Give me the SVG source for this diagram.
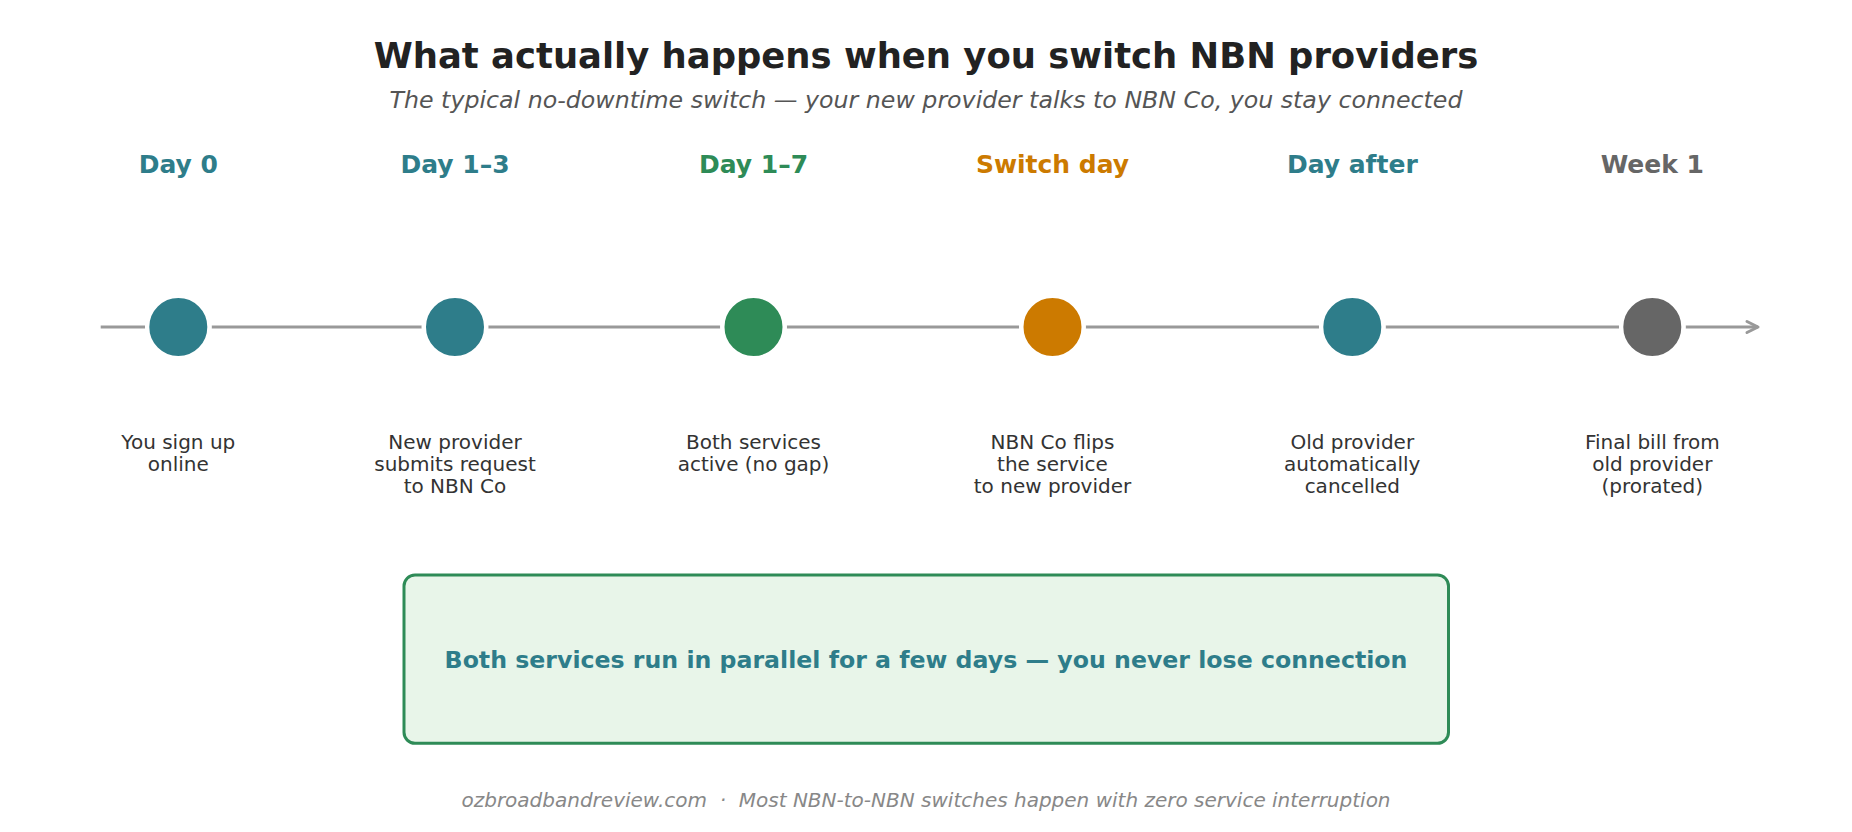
<svg xmlns="http://www.w3.org/2000/svg" width="1852" height="832" viewBox="0 0 1852 832">
  <defs>
    <style>
      text { font-family: "DejaVu Sans", "Liberation Sans", sans-serif; text-anchor: middle; white-space: pre; }
      .title { font-size: 35.4px; font-weight: bold; fill: #222222; }
      .subtitle { font-size: 23.7px; font-style: italic; fill: #555555; }
      .day { font-size: 25px; font-weight: bold; }
      .desc { font-size: 20px; fill: #333333; }
      .boxtext { font-size: 23.65px; font-weight: bold; fill: #2E7D8A; }
      .footer { font-size: 20px; font-style: italic; fill: #888888; }
      .seg { stroke: #999999; stroke-width: 3; fill: none; }
      .dot { stroke: #ffffff; stroke-width: 4.3; }
      .teal { fill: #2E7D8A; }
      .green { fill: #2E8B57; }
      .orange { fill: #CC7A00; }
      .gray { fill: #666666; }
    </style>
    <marker id="arrow" markerUnits="userSpaceOnUse" markerWidth="20" markerHeight="20" viewBox="-16 -10 20 20" refX="0" refY="0" orient="auto">
      <path d="M-11,-5.5 L0,0 L-11,5.5" fill="none" stroke="#999999" stroke-width="3" stroke-linejoin="round" stroke-linecap="round"/>
    </marker>
  </defs>

  <rect width="1852" height="832" fill="#ffffff"/>

  <text class="title" x="926" y="68">What actually happens when you switch NBN providers</text>
  <text class="subtitle" x="926" y="107.5">The typical no-downtime switch — your new provider talks to NBN Co, you stay connected</text>

  <g id="connectors">
    <line class="seg" x1="100.7" y1="327" x2="145" y2="327"/>
    <line class="seg" x1="211.6" y1="327" x2="421.7" y2="327"/>
    <line class="seg" x1="488.3" y1="327" x2="720.2" y2="327"/>
    <line class="seg" x1="786.8" y1="327" x2="1019.1" y2="327"/>
    <line class="seg" x1="1085.7" y1="327" x2="1319" y2="327"/>
    <line class="seg" x1="1385.6" y1="327" x2="1619" y2="327"/>
    <line class="seg" x1="1685.6" y1="327" x2="1758" y2="327" marker-end="url(#arrow)"/>
  </g>

  <g id="step-day0">
    <text class="day teal" x="178.3" y="172.5">Day 0</text>
    <circle class="dot teal" cx="178.3" cy="327" r="31.15"/>
    <text class="desc" x="178.3" y="449.3">You sign up</text>
    <text class="desc" x="178.3" y="471.2">online</text>
  </g>

  <g id="step-day1-3">
    <text class="day teal" x="455" y="172.5">Day 1–3</text>
    <circle class="dot teal" cx="455" cy="327" r="31.15"/>
    <text class="desc" x="455" y="449.3">New provider</text>
    <text class="desc" x="455" y="471.2">submits request</text>
    <text class="desc" x="455" y="493.1">to NBN Co</text>
  </g>

  <g id="step-day1-7">
    <text class="day green" x="753.5" y="172.5">Day 1–7</text>
    <circle class="dot green" cx="753.5" cy="327" r="31.15"/>
    <text class="desc" x="753.5" y="449.3">Both services</text>
    <text class="desc" x="753.5" y="471.2">active (no gap)</text>
  </g>

  <g id="step-switch-day">
    <text class="day orange" x="1052.5" y="172.5">Switch day</text>
    <circle class="dot orange" cx="1052.5" cy="327" r="31.15"/>
    <text class="desc" x="1052.5" y="449.3">NBN Co flips</text>
    <text class="desc" x="1052.5" y="471.2">the service</text>
    <text class="desc" x="1052.5" y="493.1">to new provider</text>
  </g>

  <g id="step-day-after">
    <text class="day teal" x="1352.3" y="172.5">Day after</text>
    <circle class="dot teal" cx="1352.3" cy="327" r="31.15"/>
    <text class="desc" x="1352.3" y="449.3">Old provider</text>
    <text class="desc" x="1352.3" y="471.2">automatically</text>
    <text class="desc" x="1352.3" y="493.1">cancelled</text>
  </g>

  <g id="step-week1">
    <text class="day gray" x="1652.3" y="172.5">Week 1</text>
    <circle class="dot gray" cx="1652.3" cy="327" r="31.15"/>
    <text class="desc" x="1652.3" y="449.3">Final bill from</text>
    <text class="desc" x="1652.3" y="471.2">old provider</text>
    <text class="desc" x="1652.3" y="493.1">(prorated)</text>
  </g>

  <g id="callout">
    <rect x="404" y="575" width="1044.5" height="168.3" rx="11" ry="11" fill="#E8F5E9" stroke="#2E8B57" stroke-width="3"/>
    <text class="boxtext" x="926" y="668.3">Both services run in parallel for a few days — you never lose connection</text>
  </g>

  <text class="footer" x="926" y="807.3">ozbroadbandreview.com  ·  Most NBN-to-NBN switches happen with zero service interruption</text>
</svg>
